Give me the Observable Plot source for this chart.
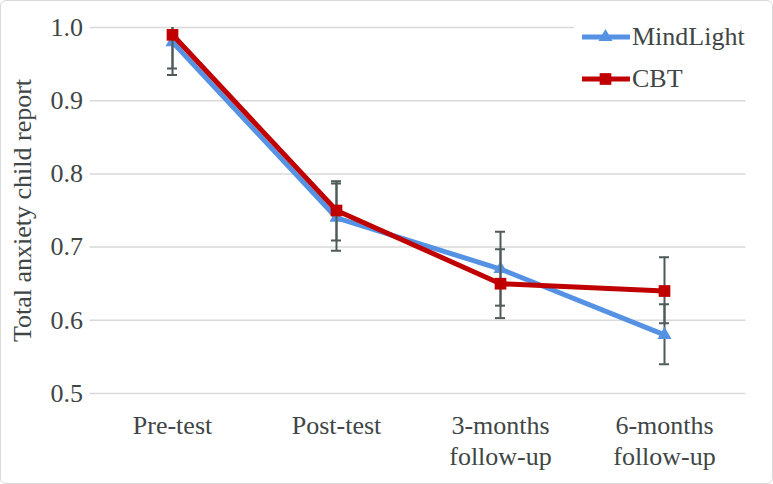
<!DOCTYPE html>
<html>
<head>
<meta charset="utf-8">
<script src="https://cdn.jsdelivr.net/npm/d3@7"></script>
<script src="https://cdn.jsdelivr.net/npm/@observablehq/plot@0.6"></script>
<style>
  html, body { margin: 0; padding: 0; background: #fff; }
  #wrap { position: relative; width: 773px; height: 484px; overflow: hidden; font-family: "Liberation Serif", "Times New Roman", serif; }
  #border { position: absolute; left: 0; top: 0; width: 773px; height: 484px; box-sizing: border-box; border: 1.5px solid #d9d9d9; border-radius: 6px; pointer-events: none; }
  #legend { position: absolute; left: 574px; top: 12px; width: 178px; height: 84px; background: #fff; }
  .row { position: absolute; left: 8px; height: 30px; display: flex; align-items: center; }
  .row span { font-size: 26px; color: #404646; margin-left: 2px; line-height: 1; }
</style>
</head>
<body>
<div id="wrap"></div>
<script>
const categories = ["Pre-test", "Post-test", "3-months\nfollow-up", "6-months\nfollow-up"];
const seriesNames = ["MindLight", "CBT"];
const seriesColors = ["#5592e3", "#c00000"];
const seriesSymbols = ["triangle", "square"];
const mindLight = [0.98, 0.74, 0.67, 0.58];
const mindLightLow = [0.935, 0.695, 0.62, 0.54];
const mindLightHigh = [1.025, 0.787, 0.721, 0.622];
const cbt = [0.99, 0.75, 0.65, 0.64];
const cbtLow = [0.944, 0.709, 0.603, 0.596];
const cbtHigh = [1.036, 0.79, 0.697, 0.686];
const yTicks = [0.5, 0.6, 0.7, 0.8, 0.9, 1.0];
const yLabel = "Total anxiety child report";

const rows = (name, vals, lo, hi) => categories.map((c, i) => ({series: name, x: c, y: vals[i], lo: lo[i], hi: hi[i]}));
const ml = rows("MindLight", mindLight, mindLightLow, mindLightHigh);
const cb = rows("CBT", cbt, cbtLow, cbtHigh);

const errColor = "#4f5a5a";
const textColor = "#404646";

function seriesMarks(data, color, symbol, r) {
  return [
    Plot.line(data, {x: "x", y: "y", stroke: color, strokeWidth: 5, strokeLinejoin: "round"}),
    Plot.ruleX(data, {x: "x", y1: "lo", y2: "hi", stroke: errColor, strokeWidth: 2, clip: true}),
    Plot.tickY(data, {x: "x", y: "lo", stroke: errColor, strokeWidth: 2, insetLeft: 77, insetRight: 77, clip: true}),
    Plot.tickY(data, {x: "x", y: "hi", stroke: errColor, strokeWidth: 2, insetLeft: 77, insetRight: 77, clip: true}),
    Plot.dot(data, {x: "x", y: "y", symbol: () => symbol, fill: color, stroke: "none", r})
  ];
}

const chart = Plot.plot({
  width: 773,
  height: 484,
  marginTop: 27,
  marginBottom: 91,
  marginLeft: 89.5,
  marginRight: 27.5,
  style: {fontFamily: "'Liberation Serif', 'Times New Roman', serif", background: "transparent", color: textColor},
  x: {type: "band", domain: categories, padding: 0},
  y: {domain: [0.5, 1.0]},
  symbol: {domain: ["triangle", "square"], range: ["triangle", "square"]},
  marks: [
    Plot.ruleY(yTicks, {stroke: "#d9d9d9", strokeWidth: 1.5}),
    Plot.axisY({ticks: yTicks, tickSize: 0, tickPadding: 7, tickFormat: d3.format(".1f"), fontSize: 26, fill: textColor, label: null}),
    Plot.axisX({tickSize: 0, tickPadding: 18, fontSize: 26, fill: textColor, lineHeight: 1.2, label: null}),
    Plot.text([yLabel], {frameAnchor: "left", dx: -67, rotate: -90, fontSize: 26, fill: textColor, textAnchor: "middle", lineAnchor: "middle"}),
    ...seriesMarks(ml, seriesColors[0], "triangle", 5.2),
    ...seriesMarks(cb, seriesColors[1], "square", 6.6)
  ]
});

const wrap = document.getElementById("wrap");
wrap.appendChild(chart);

// Legend
const legend = document.createElement("div");
legend.id = "legend";
seriesNames.forEach((name, i) => {
  const row = document.createElement("div");
  row.className = "row";
  row.style.top = (10 + i * 42) + "px";
  const svg = d3.create("svg").attr("width", 48).attr("height", 20);
  svg.append("line").attr("x1", 0).attr("x2", 47).attr("y1", 10).attr("y2", 10)
    .attr("stroke", seriesColors[i]).attr("stroke-width", 5).attr("stroke-linecap", "round");
  const sym = seriesSymbols[i] === "triangle" ? d3.symbolTriangle : d3.symbolSquare;
  const size = seriesSymbols[i] === "triangle" ? Math.PI * 5.2 * 5.2 : Math.PI * 6.6 * 6.6;
  svg.append("path").attr("d", d3.symbol(sym, size)()).attr("transform", "translate(23.5,10)").attr("fill", seriesColors[i]);
  row.appendChild(svg.node());
  const label = document.createElement("span");
  label.textContent = name;
  row.appendChild(label);
  legend.appendChild(row);
});
wrap.appendChild(legend);

const border = document.createElement("div");
border.id = "border";
wrap.appendChild(border);
</script>
</body>
</html>
